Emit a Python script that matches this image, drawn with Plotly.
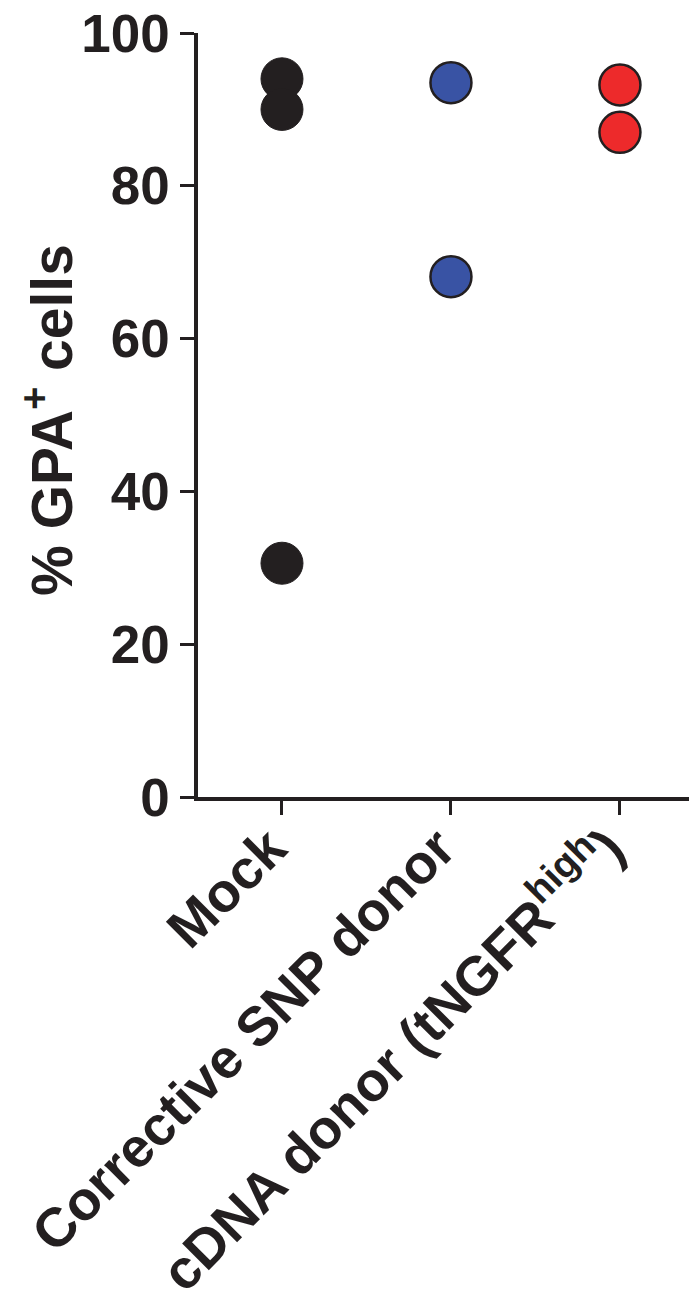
import plotly.graph_objects as go

categories = ["Mock", "Corrective SNP donor", "cDNA donor (tNGFR<sup>high</sup>)"]
mock_vals = [94.0, 90.0, 30.6]
snp_vals = [93.5, 68.1]
cdna_vals = [93.2, 87.0]
y_ticks = [0, 20, 40, 60, 80, 100]

INK = "#231f20"
FONT = "Liberation Sans, Arial, Helvetica, sans-serif"

fig = go.Figure()
fig.add_trace(go.Scatter(
    x=[categories[0]] * len(mock_vals), y=mock_vals, mode="markers",
    marker=dict(size=42, color=INK, line=dict(color=INK, width=1)),
    cliponaxis=False, showlegend=False))
fig.add_trace(go.Scatter(
    x=[categories[1]] * len(snp_vals), y=snp_vals, mode="markers",
    marker=dict(size=41, color="#3953a4", line=dict(color=INK, width=2.5)),
    cliponaxis=False, showlegend=False))
fig.add_trace(go.Scatter(
    x=[categories[2]] * len(cdna_vals), y=cdna_vals, mode="markers",
    marker=dict(size=41, color="#ed2a2b", line=dict(color=INK, width=2.5)),
    cliponaxis=False, showlegend=False))

fig.update_layout(
    width=689, height=1288,
    margin=dict(l=190, r=0, t=25, b=499, autoexpand=False),
    plot_bgcolor="white", paper_bgcolor="white",
    font=dict(family=FONT, color=INK, size=52, weight="bold"),
    xaxis=dict(
        type="category", categoryorder="array", categoryarray=categories,
        range=[-0.497, 2.456], automargin=False,
        showline=True, linecolor=INK, linewidth=3.5,
        ticks="outside", ticklen=14, tickwidth=3, tickcolor=INK,
        tickangle=-45, tickfont=dict(size=55, family=FONT, color=INK, weight="bold"),
        ticklabelstandoff=-21, ticklabelshift=-12,
        showgrid=False, zeroline=False, fixedrange=True,
    ),
    yaxis=dict(
        range=[0, 100], tickvals=y_ticks, automargin=False,
        ticklabeloverflow="allow",
        showline=True, linecolor=INK, linewidth=3.5,
        ticks="outside", ticklen=14, tickwidth=3, tickcolor=INK,
        tickfont=dict(size=53, family=FONT, color=INK, weight="bold"),
        showgrid=False, zeroline=False, fixedrange=True,
    ),
    annotations=[dict(
        text="% GPA<sup>+</sup> cells", textangle=-90,
        xref="paper", yref="paper", x=-0.302, y=0.494,
        xanchor="center", yanchor="middle", showarrow=False,
        font=dict(size=57, family=FONT, color=INK, weight="bold"),
    )],
)

fig.write_html("out.html")
